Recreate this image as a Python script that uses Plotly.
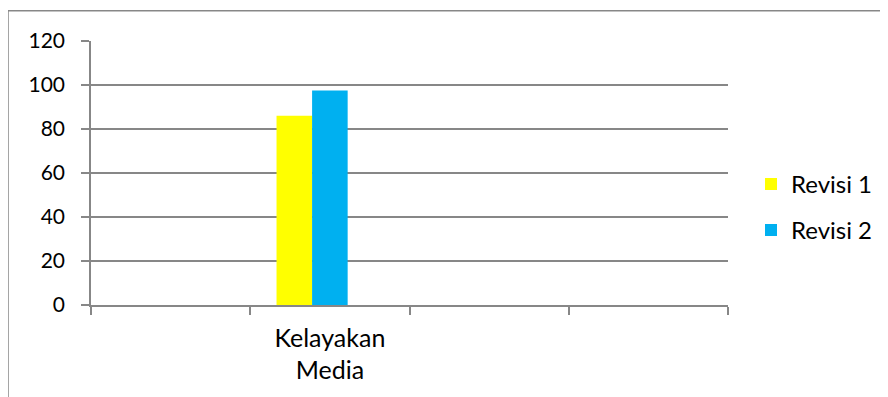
import plotly.graph_objects as go

categories = ["c0", "Kelayakan Media", "c2", "c3"]
tick_labels = ["", "Kelayakan<br>Media", "", ""]
revisi1 = [None, 86, None, None]
revisi2 = [None, 97.5, None, None]
series3 = [None, None, None, None]

FONT = "Lato"
GRAY = "#878787"

fig = go.Figure()
fig.add_trace(go.Bar(x=categories, y=revisi1, name="Revisi 1", marker_color="#FFFF00",
                     marker_line_width=0, legendgroup="a"))
fig.add_trace(go.Bar(x=categories, y=revisi2, name="Revisi 2", marker_color="#00B0F0",
                     marker_line_width=0, legendgroup="b"))
fig.add_trace(go.Bar(x=categories, y=series3, name="Series 3", showlegend=False,
                     marker_line_width=0))

fig.update_layout(
    width=888, height=397,
    margin=dict(l=83, r=168, t=33, b=100, autoexpand=False),
    paper_bgcolor="white", plot_bgcolor="white",
    barmode="group", bargap=0.33, bargroupgap=0,
    font=dict(family=FONT, size=24, color="#000000"),
    showlegend=True,
    legend=dict(x=(751 - 91) / 637, y=0.37, xanchor="left", yanchor="middle",
                font=dict(family=FONT, size=24), tracegroupgap=12,
                itemwidth=30, bgcolor="rgba(0,0,0,0)"),
    xaxis=dict(type="category", tickmode="array", tickvals=categories, ticktext=tick_labels,
               tickson="boundaries", ticks="outside", ticklen=8, tickcolor=GRAY, tickwidth=1.5,
               showline=True, linecolor=GRAY, linewidth=1.5, showgrid=False,
               range=[-0.5, 3.5], fixedrange=True, automargin=False,
               tickfont=dict(size=25), ticklabelstandoff=10),
    yaxis=dict(range=[0, 120], tickvals=[0, 20, 40, 60, 80, 100, 120],
               ticks="outside", ticklen=8, tickcolor=GRAY, tickwidth=1.5,
               showline=True, linecolor=GRAY, linewidth=1.5,
               showgrid=True, gridcolor=GRAY, gridwidth=1.5, zeroline=False,
               ticklabelstandoff=12, automargin=False, tickfont=dict(size=21)),
    shapes=[dict(type="rect", xref="paper", yref="paper",
                 x0=-0.1303, x1=1.26, y0=-0.4, y1=1.1143,
                 line=dict(color=GRAY, width=1.5), fillcolor="rgba(0,0,0,0)", layer="below")],
)

fig.write_html("out.html")
